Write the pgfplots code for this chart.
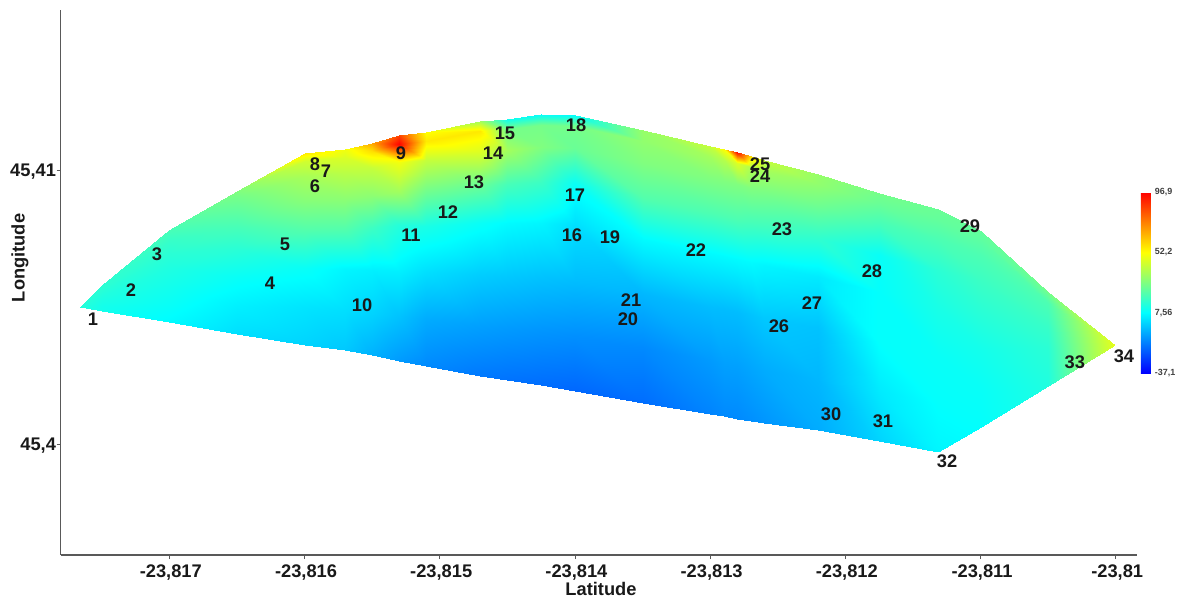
\documentclass[border=0pt]{standalone}
\usepackage{pgfplots}
\pgfplotsset{compat=1.18}
\usepackage{fontspec}
\setmainfont{Liberation Sans}
\definecolor{txt}{gray}{0.1}
\begin{document}
\begin{tikzpicture}
\useasboundingbox (-45.5pt,-33pt) rectangle (839.5pt,416.25pt);
\begin{axis}[
  at={(0,0)},anchor=south west,
  scale only axis,width=807.2pt,height=408.75pt,
  xmin=-7.805,xmax=0.156,ymin=-0.405,ymax=1.584,
  axis x line=bottom,axis y line=left,
  axis line style={-,draw=black!65,line width=1.1pt},
  tick style={draw=black!65,line width=0.7pt},
  tick align=outside,major tick length=3pt,
  xtick={-7,-6,-5,-4,-3,-2,-1,0},
  xticklabels={{-23,817},{-23,816},{-23,815},{-23,814},{-23,813},{-23,812},{-23,811},{-23,81}},
  ytick={0,1},yticklabels={{45,4},{45,41}},
  ticklabel style={font=\fontsize{13.7pt}{15pt}\selectfont\bfseries,text=txt},
  xticklabel style={yshift=-1pt,xshift=1pt},
  yticklabel style={xshift=3pt,yshift=-1pt},
  xlabel={Latitude},ylabel={Longitude},
  xlabel style={at={(axis description cs:0.502,-0.062)},anchor=center,font=\fontsize{13.7pt}{15pt}\selectfont\bfseries,text=txt},
  ylabel style={at={(axis description cs:-0.0378,0.545)},anchor=center,font=\fontsize{13.7pt}{15pt}\selectfont\bfseries,text=txt},
  colormap={rep}{rgb255(0)=(0,0,255) rgb255(1)=(0,255,255) rgb255(2)=(255,255,0) rgb255(3)=(255,0,0)},
  point meta min=-37.1,point meta max=96.9,
  colorbar,
  colorbar style={
    at={(1.0037,0.666)},anchor=north west,
    width=7.5pt,height=135.75pt,
    ymin=-37.1,ymax=96.9,
    ytick={-37.1,7.56,52.2,96.9},
    yticklabels={{-37,1},{7,56},{52,2},{96,9}},
    yticklabel pos=right,
    yticklabel style={font=\fontsize{6.7pt}{8pt}\selectfont\bfseries,text=black!75,xshift=-0.5pt},
    major tick length=0pt,
    axis line style={draw=none},
  },
]
\addplot[surf,shader=interp,mesh/cols=8,point meta=\thisrow{c}] table {
x y c
-7.66 .500 14
-7.66 .500 14
-7.66 .500 14
-7.66 .500 14
-7.66 .500 14
-7.66 .500 14
-7.66 .500 14
-7.66 .500 14

-7.5 .485 11
-7.5 .504 11
-7.5 .523 12
-7.5 .542 13
-7.5 .556 14
-7.5 .569 15
-7.5 .576 15
-7.5 .580 15

-7 .445 7
-7 .512 9
-7 .579 11
-7 .647 13
-7 .697 15
-7 .741 17
-7 .768 19
-7 .781 20

-6.5 .401 2
-6.5 .505 5
-6.5 .610 9
-6.5 .714 15
-6.5 .793 20
-6.5 .860 25
-6.5 .902 28
-6.5 .923 30

-6 .361 0
-6 .501 3
-6 .641 9
-6 .782 22
-6 .887 31
-6 .978 37
-6 1.034 44
-6 1.062 56

-5.7 .343 -2
-5.7 .490 2
-5.7 .637 6
-5.7 .783 22
-5.7 .894 32
-5.7 .989 40
-5.7 1.048 46
-5.7 1.077 50

-5.5 .325 -6
-5.5 .480 0
-5.5 .635 5
-5.5 .789 18
-5.5 .906 32
-5.5 1.006 42
-5.5 1.068 58
-5.5 1.099 68

-5.3 .303 -10
-5.3 .468 -3
-5.3 .633 5
-5.3 .798 14
-5.3 .922 36
-5.3 1.029 50
-5.3 1.095 96
-5.3 1.128 85

-5.1 .285 -13
-5.1 .456 -7
-5.1 .627 2
-5.1 .797 12
-5.1 .926 28
-5.1 1.037 42
-5.1 1.105 56
-5.1 1.139 52

-4.7 .248 -16
-4.7 .434 -9
-4.7 .620 -1
-4.7 .807 9
-4.7 .946 26
-4.7 1.067 46
-4.7 1.142 56
-4.7 1.179 36

-4.5 .234 -17
-4.5 .424 -10
-4.5 .615 -2
-4.5 .805 7
-4.5 .948 20
-4.5 1.072 36
-4.5 1.148 28
-4.5 1.186 10

-4.25 .215 -18
-4.25 .413 -11
-4.25 .611 -3
-4.25 .808 6
-4.25 .957 18
-4.25 1.085 30
-4.25 1.164 28
-4.25 1.204 8

-4 .193 -19
-4 .395 -12
-4 .596 -4
-4 .798 2
-4 .949 9
-4 1.080 26
-4 1.161 28
-4 1.201 8

-3.5 .150 -18
-3.5 .349 -13
-3.5 .548 -5
-3.5 .748 7
-3.5 .897 22
-3.5 1.026 30
-3.5 1.106 33
-3.5 1.146 34

-3 .109 -14
-3 .305 -10
-3 .501 -4
-3 .696 7
-3 .843 21
-3 .971 30
-3 1.049 36
-3 1.088 42

-2.9 .102 -13
-2.9 .297 -9
-2.9 .492 -4
-2.9 .687 7
-2.9 .833 21
-2.9 .960 30
-2.9 1.038 39
-2.9 1.077 52

-2.8 .091 -13
-2.8 .286 -9
-2.8 .481 -4
-2.8 .676 7
-2.8 .822 21
-2.8 .949 30
-2.8 1.027 46
-2.8 1.066 95

-2.7 .084 -12
-2.7 .277 -8
-2.7 .471 -3
-2.7 .664 7
-2.7 .809 20
-2.7 .935 30
-2.7 1.012 38
-2.7 1.051 58

-2.6 .077 -11
-2.6 .269 -7
-2.6 .461 -2
-2.6 .652 6
-2.6 .796 19
-2.6 .921 29
-2.6 .998 36
-2.6 1.036 42

-2.2 .051 -7
-2.2 .238 -5
-2.2 .425 -3
-2.2 .611 4
-2.2 .752 16
-2.2 .873 27
-2.2 .948 33
-2.2 .985 34

-1.75 .011 0
-1.75 .192 4
-1.75 .373 8
-1.75 .554 8
-1.75 .690 9
-1.75 .807 20
-1.75 .880 26
-1.75 .916 28

-1.315 -.029 6
-1.315 .148 8
-1.315 .326 9
-1.315 .503 12
-1.315 .636 15
-1.315 .752 21
-1.315 .823 25
-1.315 .858 26

-1 .062 8
-1 .205 9
-1 .348 11
-1 .491 15
-1 .598 18
-1 .691 21
-1 .748 24
-1 .777 25

-.5 .212 13
-.5 .281 14
-.5 .349 15
-.5 .418 17
-.5 .469 19
-.5 .514 21
-.5 .541 25
-.5 .555 28

-.01 .361 48
-.01 .361 48
-.01 .361 48
-.01 .361 48
-.01 .361 48
-.01 .361 48
-.01 .361 48
-.01 .361 48
};
\addplot[only marks,mark=none,draw=none,
  nodes near coords,point meta=explicit symbolic,
  every node near coord/.style={anchor=center,inner sep=0pt,text=txt,font=\fontsize{13.7pt}{15pt}\selectfont\bfseries}]
 table[meta=n] {
x y n
-7.566 .456 1
-7.285 .562 2
-7.092 .693 3
-6.257 .588 4
-6.146 .730 5
-5.924 .942 6
-5.842 .996 7
-5.924 1.022 8
-5.288 1.062 9
-5.576 .507 10
-5.214 .763 11
-4.940 .847 12
-4.748 .956 13
-4.607 1.062 14
-4.519 1.135 15
-4.023 .763 16
-4.001 .909 17
-3.993 1.164 18
-3.742 .755 19
-3.609 .456 20
-3.586 .526 21
-3.106 .708 22
-2.470 .785 23
-2.632 .978 24
-2.632 1.022 25
-2.492 .431 26
-2.248 .515 27
-1.804 .631 28
-1.079 .796 29
-2.107 .109 30
-1.723 .084 31
-1.249 -.062 32
-.303 .299 33
.060 .321 34
};
\end{axis}
\end{tikzpicture}
\end{document}
